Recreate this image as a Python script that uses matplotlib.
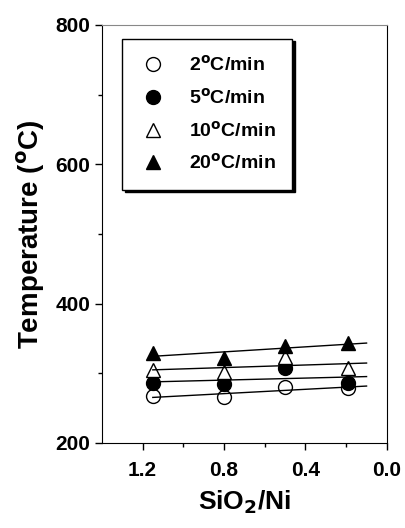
import matplotlib.pyplot as plt
import numpy as np

plt.rcParams['font.family'] = ['Liberation Sans', 'DejaVu Sans']
plt.rcParams['font.weight'] = 'bold'

# SiO2/Ni ratio
ratio = [1.15, 0.8, 0.5, 0.19]

# peak temperatures (degC) at each heating rate
t_2 = [267, 266, 280, 279]
t_5 = [286, 285, 308, 286]
t_10 = [305, 302, 323, 308]
t_20 = [329, 322, 339, 343]

fit_range = [1.15, 0.1]

series = [
    (t_2, 'o', 'white', r'2$^{\mathrm{o}}$C/min'),
    (t_5, 'o', 'black', r'5$^{\mathrm{o}}$C/min'),
    (t_10, '^', 'white', r'10$^{\mathrm{o}}$C/min'),
    (t_20, '^', 'black', r'20$^{\mathrm{o}}$C/min'),
]

fig = plt.figure(figsize=(4.06, 5.28), dpi=100)
ax = fig.add_axes([0.251, 0.161, 0.702, 0.792])

xf = np.array(fit_range)
for temps, mk, fc, lab in series:
    ax.plot(ratio, temps, linestyle='none', marker=mk, markersize=10,
            markerfacecolor=fc, markeredgecolor='black', markeredgewidth=1, label=lab)
    k, b = np.polyfit(ratio, temps, 1)
    ax.plot(xf, k * xf + b, color='black', lw=1)

ax.set_xlim(1.4, 0.0)
ax.set_ylim(200, 800)
ax.set_xticks([1.2, 0.8, 0.4, 0.0])
ax.set_xticks([1.0, 0.6, 0.2], minor=True)
ax.set_yticks([200, 400, 600, 800])
ax.set_yticks([300, 500, 700], minor=True)
ax.xaxis.set_major_formatter(plt.FormatStrFormatter('%.1f'))
ax.tick_params(which='major', length=5, width=1, labelsize=15)
ax.tick_params(axis='x', which='major', pad=8)
ax.tick_params(which='minor', length=3, width=1)
ax.spines['top'].set_color('#888888')

ax.set_xlabel(r'SiO$_\mathbf{2}$/Ni', fontsize=19, fontweight='bold', labelpad=6)
ax.set_ylabel(r'Temperature ($^{\mathbf{o}}$C)', fontsize=20, fontweight='bold', labelpad=6)

leg = ax.legend(loc='upper left', bbox_to_anchor=(0.07, 0.967), borderaxespad=0,
                frameon=True, fancybox=False, shadow={'color': 'black', 'alpha': 1},
                edgecolor='black', fontsize=14, handletextpad=1.1, labelspacing=0.65,
                borderpad=0.85, handlelength=1.5)
leg.get_frame().set_linewidth(1)

fig.savefig('out.png', dpi=100)
